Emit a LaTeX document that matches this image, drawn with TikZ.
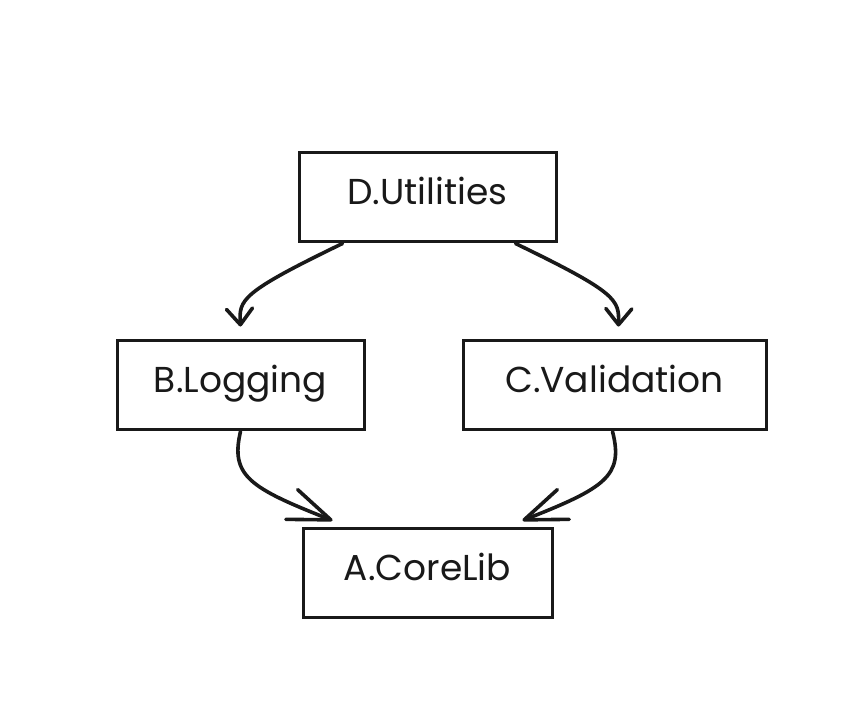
\documentclass[tikz,border=0pt]{standalone}
\usepackage{fontspec}
\setmainfont{Poppins}
\usetikzlibrary{arrows.meta,calc}
\begin{document}
\begin{tikzpicture}[x=1pt,y=-1pt,
  box/.style={draw=black!90,line width=3pt,minimum height=89pt,inner sep=0pt,
    font=\fontsize{36}{40}\selectfont,text=black!90,text height=26pt,text depth=10pt},
  conn/.style={draw=black!90,line width=3.6pt,line cap=round,line join=round,
    -{Straight Barb[length=16pt,width=26pt,line width=3.6pt,round]}},
  connb/.style={draw=black!90,line width=3.6pt,line cap=round,line join=round,
    -{Straight Barb[length=42pt,width=32pt,line width=3.6pt,round]}}]
\useasboundingbox (0,0) rectangle (848,716);
\fill[white] (0,0) rectangle (848,716);
\node[box,minimum width=257pt] (D) at (427.5,196.5) {D.Utilities};
\node[box,minimum width=247pt] (B) at (240.5,384.5) {B.Logging};
\node[box,minimum width=303pt] (C) at (614.5,384.5) {C.Validation};
\node[box,minimum width=249pt] (A) at (427.5,572.5) {A.CoreLib};
\coordinate (tB) at ($(B.north)+(0,-12)$);
\coordinate (tC) at ($(C.north)+(4,-12)$);
\coordinate (tA1) at ($(A.north)+(-95,-6)$);
\coordinate (tA2) at ($(A.north)+(95,-6)$);
\draw[conn] ($(D.south)+(-85,1)$) .. controls (240,293) and (239,300) .. (tB);
\draw[conn] ($(D.south)+(88,1)$) .. controls (618,293) and (619,300) .. (tC);
\draw[connb] ($(B.south)+(0,1)$) .. controls (230,476) and (250,488) .. (tA1);
\draw[connb] ($(C.south)+(-2,1)$) .. controls (624,476) and (605,488) .. (tA2);
\end{tikzpicture}
\end{document}
